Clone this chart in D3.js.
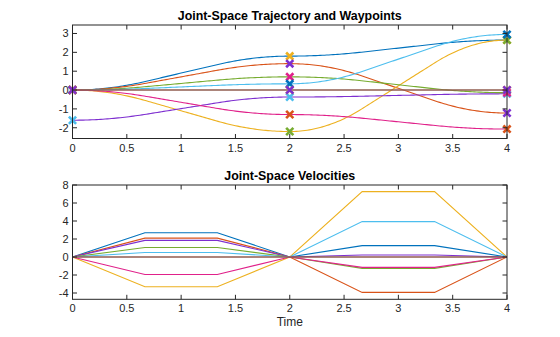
<!DOCTYPE html>
<html><head><meta charset="utf-8">
<script src="https://cdn.jsdelivr.net/npm/d3@7"></script>
<style>
body{margin:0;background:#fff;}
text{font-family:"Liberation Sans",Arial,Helvetica,sans-serif;}
</style>
</head><body>
<svg id="c" width="560" height="337"></svg>
<script>
// ---- data ----
const waypointTimes = [0, 2, 4];
const joint1 = [0, 1.8, 2.65];
const joint2 = [0, 1.4, -1.22];
const joint3 = [0, -2.2, 2.65];
const joint4 = [-1.6, -0.37, -0.2];
const joint5 = [0, 0.7, -0.14];
const joint6 = [0, 0.33, 2.95];
const joint7 = [0, -1.3, -2.07];
const joint8 = [0, 0, 0];
const joint9 = [0, 0, 0];
const waypoints = [joint1, joint2, joint3, joint4, joint5, joint6, joint7, joint8, joint9];

const velTimes = [0, 2/3, 4/3, 2, 8/3, 10/3, 4];
const vel1 = [0, 2.7, 2.7, 0, 1.26, 1.26, 0];
const vel2 = [0, 2.1, 2.1, 0, -3.93, -3.93, 0];
const vel3 = [0, -3.3, -3.3, 0, 7.26, 7.26, 0];
const vel4 = [0, 1.85, 1.85, 0, 0.22, 0.22, 0];
const vel5 = [0, 1.05, 1.05, 0, -1.26, -1.26, 0];
const vel6 = [0, 0.5, 0.5, 0, 3.93, 3.93, 0];
const vel7 = [0, -1.95, -1.95, 0, -1.15, -1.15, 0];
const vel8 = [0, 0, 0, 0, 0, 0, 0];
const vel9 = [0, 0, 0, 0, 0, 0, 0];
const velocities = [vel1, vel2, vel3, vel4, vel5, vel6, vel7, vel8, vel9];

const xTicks = [0, 0.5, 1, 1.5, 2, 2.5, 3, 3.5, 4];
const yTicksPos = [-2, -1, 0, 1, 2, 3];
const yTicksVel = [-4, -2, 0, 2, 4, 6, 8];
const colorOrder = ["#0072BD", "#D95319", "#EDB120", "#7E2FD0", "#77AC30", "#4DBEEE", "#E0218A"];

// ---- layout ----
const svg = d3.select("#c");
const L = 72.5, R = 507;
const x = d3.scaleLinear().domain([0, 4]).range([L, R]);
const yP = d3.scaleLinear().domain([-2.57, 3.45]).range([138.5, 25]);
const yV = d3.scaleLinear().domain([-4.7, 8]).range([299.3, 185]);

function frame(y, yTicks, title) {
  const g = svg.append("g");
  const [b, t] = y.range();
  const tl = 4.5;
  const fmt = d => String(d);
  xTicks.forEach(v => {
    g.append("line").attr("x1", x(v)).attr("x2", x(v)).attr("y1", b).attr("y2", b - tl).attr("stroke", "#262626");
    g.append("line").attr("x1", x(v)).attr("x2", x(v)).attr("y1", t).attr("y2", t + tl).attr("stroke", "#262626");
    g.append("text").attr("x", x(v)).attr("y", b + 13).attr("text-anchor", "middle")
      .attr("font-size", 11).attr("fill", "#262626").text(fmt(v));
  });
  yTicks.forEach(v => {
    g.append("line").attr("x1", L).attr("x2", L + tl).attr("y1", y(v)).attr("y2", y(v)).attr("stroke", "#262626");
    g.append("line").attr("x1", R).attr("x2", R - tl).attr("y1", y(v)).attr("y2", y(v)).attr("stroke", "#262626");
    g.append("text").attr("x", L - 4).attr("y", y(v) + 4).attr("text-anchor", "end")
      .attr("font-size", 11).attr("fill", "#262626").text(fmt(v));
  });
  g.append("rect").attr("x", L).attr("y", t).attr("width", R - L).attr("height", b - t)
    .attr("fill", "none").attr("stroke", "#262626").attr("stroke-width", 1);
  svg.append("text").attr("x", (L + R) / 2).attr("y", t - 5).attr("text-anchor", "middle")
    .attr("font-size", 12.4).attr("font-weight", "bold").attr("fill", "#000").text(title);
}

const defs = svg.append("defs");
defs.append("clipPath").attr("id", "cp1").append("rect").attr("x", L).attr("y", 25).attr("width", R - L).attr("height", 113.5);
defs.append("clipPath").attr("id", "cp2").append("rect").attr("x", L).attr("y", 185).attr("width", R - L).attr("height", 114.3);

// ---- position plot ----
function trapPos(p, t) {
  // trapezoidal velocity profile between waypoints
  let i = t >= waypointTimes[1] ? 1 : 0;
  const t0 = waypointTimes[i], T = waypointTimes[i + 1] - t0;
  const p0 = p[i], p1 = p[i + 1];
  const ta = T / 3, vmax = (p1 - p0) / (T - ta), a = vmax / ta;
  const s = t - t0;
  if (s < ta) return p0 + 0.5 * a * s * s;
  if (s < T - ta) return p0 + 0.5 * a * ta * ta + vmax * (s - ta);
  return p1 - 0.5 * a * (T - s) * (T - s);
}
const tSamples = d3.range(0, 4.0001, 0.02);
const lineP = d3.line().x(d => x(d[0])).y(d => yP(d[1]));
const gP = svg.append("g").attr("clip-path", "url(#cp1)");
waypoints.forEach((p, j) => {
  gP.append("path").datum(tSamples.map(t => [t, trapPos(p, t)]))
    .attr("d", lineP).attr("fill", "none").attr("stroke", colorOrder[j % 7]).attr("stroke-width", 1.1);
});
const gM = svg.append("g");
const ms = 3.6;
waypoints.forEach((p, j) => {
  const col = colorOrder[(waypoints.length + j) % 7];
  p.forEach((v, k) => {
    const cx = x(waypointTimes[k]), cy = yP(v);
    gM.append("path").attr("d", `M${cx - ms},${cy - ms}L${cx + ms},${cy + ms}M${cx - ms},${cy + ms}L${cx + ms},${cy - ms}`)
      .attr("stroke", col).attr("stroke-width", 2.6).attr("fill", "none");
  });
});
frame(yP, yTicksPos, "Joint-Space Trajectory and Waypoints");

// ---- velocity plot ----
const lineV = d3.line().x(d => x(d[0])).y(d => yV(d[1]));
const gV = svg.append("g").attr("clip-path", "url(#cp2)");
velocities.forEach((v, j) => {
  gV.append("path").datum(velTimes.map((t, k) => [t, v[k]]))
    .attr("d", lineV).attr("fill", "none").attr("stroke", colorOrder[j % 7]).attr("stroke-width", 1.1);
});
frame(yV, yTicksVel, "Joint-Space Velocities");
svg.append("text").attr("x", (L + R) / 2).attr("y", 326).attr("text-anchor", "middle")
  .attr("font-size", 12).attr("fill", "#262626").text("Time");
</script>
</body></html>
